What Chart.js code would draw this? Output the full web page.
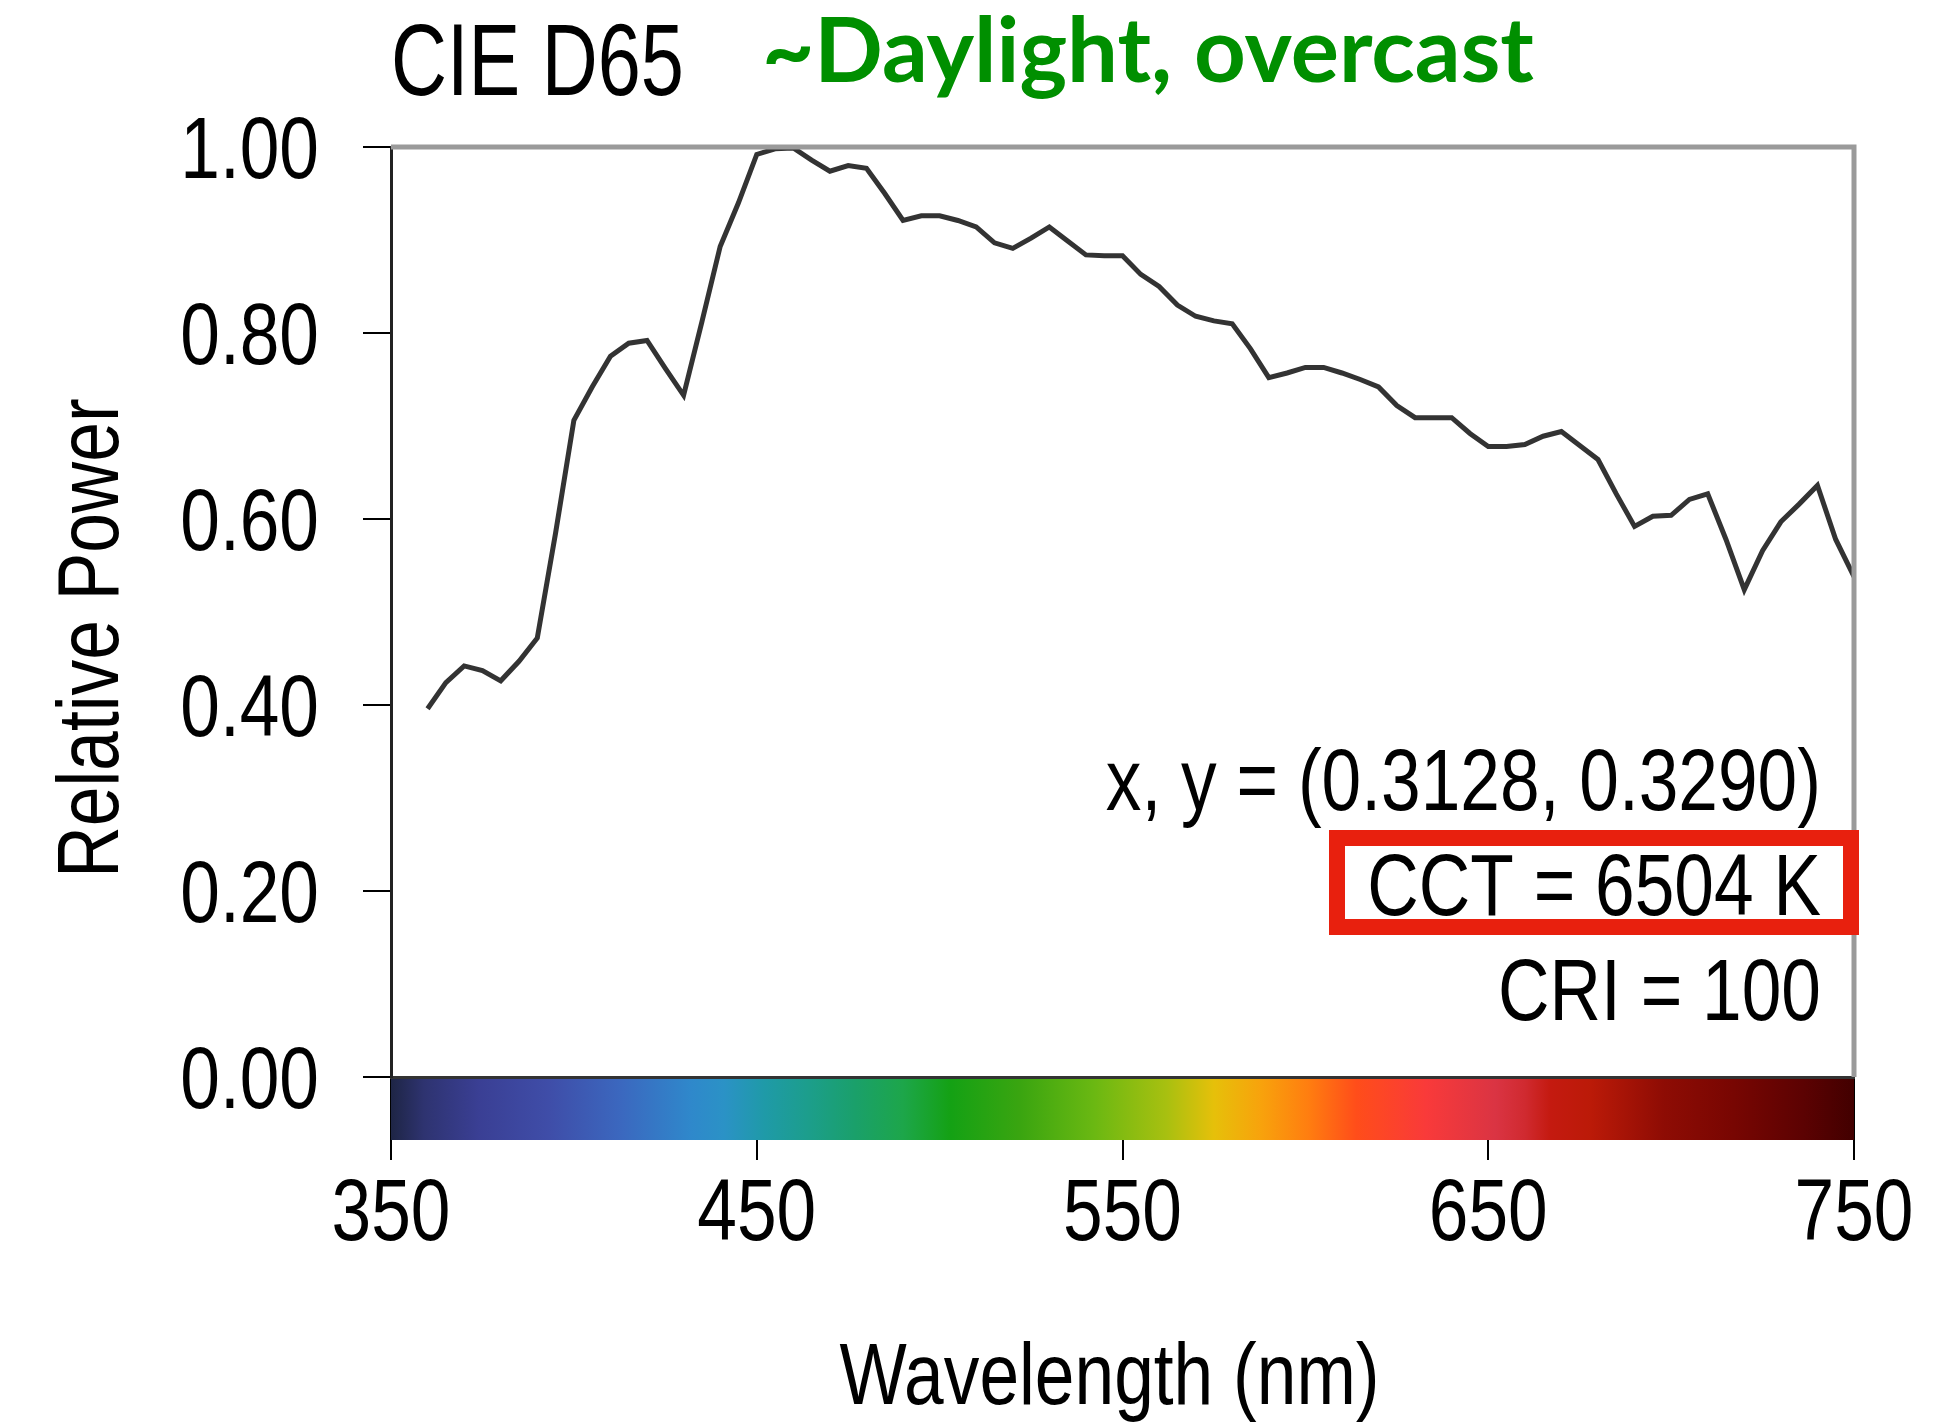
<!DOCTYPE html>
<html>
<head>
<meta charset="utf-8">
<script src="https://cdn.jsdelivr.net/npm/chart.js@4.4.1/dist/chart.umd.min.js"></script>
<style>
    html, body { margin: 0; padding: 0; background: #fff; }
</style>
</head>
<body>
<canvas id="canva" width="1942" height="1424"></canvas>
<script>
// wavelength (nm) and relative power
const wavelength = [
    360, 365, 370, 375, 380, 385, 390, 395, 400, 405,
    410, 415, 420, 425, 430, 435, 440, 445, 450, 455,
    460, 465, 470, 475, 480, 485, 490, 495, 500, 505,
    510, 515, 520, 525, 530, 535, 540, 545, 550, 555,
    560, 565, 570, 575, 580, 585, 590, 595, 600, 605,
    610, 615, 620, 625, 630, 635, 640, 645, 650, 655,
    660, 665, 670, 675, 680, 685, 690, 695, 700, 705,
    710, 715, 720, 725, 730, 735, 740, 745, 750,
];
const relativePower = [
    0.396, 0.424, 0.442, 0.437, 0.426, 0.447, 0.472, 0.585, 0.706, 0.742,
    0.775, 0.789, 0.792, 0.762, 0.733, 0.812, 0.893, 0.940, 0.992, 0.998,
    0.999, 0.986, 0.974, 0.980, 0.977, 0.950, 0.921, 0.926, 0.926, 0.921,
    0.914, 0.897, 0.891, 0.902, 0.914, 0.899, 0.884, 0.883, 0.883, 0.863,
    0.850, 0.830, 0.818, 0.813, 0.810, 0.783, 0.752, 0.757, 0.763, 0.763,
    0.757, 0.750, 0.742, 0.722, 0.709, 0.709, 0.709, 0.692, 0.678, 0.678,
    0.680, 0.689, 0.694, 0.679, 0.664, 0.627, 0.592, 0.603, 0.604, 0.621,
    0.627, 0.578, 0.524, 0.566, 0.597, 0.616, 0.636, 0.578, 0.538,
];
const xTicks = [350, 450, 550, 650, 750];
const yTicks = [0, 0.2, 0.4, 0.6, 0.8, 1.0];

const titleMain = 'CIE D65';
const titleNote = '~Daylight, overcast';
const xTitle = 'Wavelength (nm)';
const yTitle = 'Relative Power';
const infoLines = ['x, y = (0.3128, 0.3290)', 'CCT = 6504 K', 'CRI = 100'];

// colour bar under the axis: [wavelength, colour]
const spectrumStops = [
    [350, '#1e2545'], [359, '#2e3370'], [374, '#3a3f94'], [393, '#3f4da8'],
    [413, '#3b68bf'], [432, '#2f88cb'], [441, '#2b92c6'], [452, '#1f9aa8'],
    [464, '#1c9e8c'], [477, '#1aa06a'], [490, '#1da64a'], [503, '#14a114'],
    [522, '#3aa510'], [542, '#6ab812'], [562, '#a8c010'], [575, '#e6c00a'],
    [588, '#f8a20c'], [601, '#ff7d10'], [614, '#ff4d1a'], [633, '#f93a3a'],
    [652, '#da3443'], [660, '#d02a30'], [667, '#c41a10'], [678, '#bb1a08'],
    [698, '#8e0c04'], [717, '#780602'], [736, '#5c0202'], [750, '#420000'],
];

// the original uses a condensed Helvetica; squeeze Liberation Sans to match
const sans = '"Liberation Sans", Arimo, Arial, sans-serif';
const squeeze = 0.81;

function narrowText(ctx, text, x, y, align, size, sq, angle) {
    ctx.save();
    ctx.font = size + 'px ' + sans;
    ctx.translate(x, y);
    if (angle) ctx.rotate(angle);
    ctx.scale(sq, 1);
    ctx.textAlign = align;
    ctx.textBaseline = 'alphabetic';
    ctx.fillText(text, 0, 0);
    ctx.restore();
}

const decorations = {
    id: 'decorations',
    afterDraw(chart) {
        const { ctx, chartArea: area, scales } = chart;
        const xs = scales.x;
        const ys = scales.y;
        ctx.save();

        // spectrum bar
        const x0 = xs.getPixelForValue(350);
        const x1 = xs.getPixelForValue(750);
        const grad = ctx.createLinearGradient(x0, 0, x1, 0);
        spectrumStops.forEach(([w, c]) => {
            grad.addColorStop((xs.getPixelForValue(w) - x0) / (x1 - x0), c);
        });
        ctx.fillStyle = grad;
        ctx.fillRect(x0, area.bottom + 2, x1 - x0, 61);

        // grey frame top and right
        ctx.strokeStyle = '#9a9a9a';
        ctx.lineWidth = 5;
        ctx.beginPath();
        ctx.moveTo(area.left, area.top);
        ctx.lineTo(area.right, area.top);
        ctx.lineTo(area.right, area.bottom);
        ctx.stroke();

        // tick labels, placed by the scales
        ctx.fillStyle = '#000';
        ys.ticks.forEach((t) => {
            narrowText(ctx, t.value.toFixed(2), area.left - 72,
                ys.getPixelForValue(t.value) + 31, 'right', 88, squeeze);
        });
        xs.ticks.forEach((t) => {
            narrowText(ctx, String(t.value), xs.getPixelForValue(t.value),
                area.bottom + 163, 'center', 88, squeeze);
        });

        // axis titles
        narrowText(ctx, xTitle, (area.left + area.right) / 2 - 13, 1404, 'center', 88, squeeze);
        narrowText(ctx, yTitle, 118, (area.top + area.bottom) / 2 + 26, 'center', 88, squeeze, -Math.PI / 2);

        // chart titles
        narrowText(ctx, titleMain, 391, 95, 'left', 102, 0.76);

        ctx.font = 'bold 100px Lato, "Open Sans", sans-serif';
        const w = ctx.measureText(titleNote).width;
        const size = 100 * 772 / w;
        ctx.font = 'bold ' + size.toFixed(1) + 'px Lato, "Open Sans", sans-serif';
        ctx.fillStyle = '#008f00';
        ctx.textAlign = 'left';
        ctx.textBaseline = 'alphabetic';
        ctx.fillText(titleNote, 762, 82);

        // info text
        ctx.fillStyle = '#000';
        narrowText(ctx, infoLines[0], 1821, 810, 'right', 88, squeeze);
        narrowText(ctx, infoLines[1], 1821, 915, 'right', 88, squeeze);
        narrowText(ctx, infoLines[2], 1821, 1020, 'right', 88, squeeze);

        ctx.strokeStyle = '#e8200e';
        ctx.lineWidth = 16;
        ctx.strokeRect(1337, 838, 514, 89);

        ctx.restore();
    },
};

const canvas = document.querySelector('#canva').getContext('2d');
new Chart(canvas, {
    type: 'line',
    data: {
        datasets: [
            {
                data: wavelength.map((w, i) => ({ x: w, y: relativePower[i] })),
                borderColor: '#333333',
                borderWidth: 5,
                pointRadius: 0,
                tension: 0,
                fill: false,
            },
        ],
    },
    options: {
        responsive: false,
        animation: false,
        layout: {
            padding: { top: 147, right: 88, left: 0, bottom: 0 },
        },
        plugins: {
            legend: { display: false },
            tooltip: { enabled: false },
        },
        scales: {
            x: {
                type: 'linear',
                min: 350,
                max: 750,
                afterBuildTicks: (scale) => {
                    scale.ticks = xTicks.map((v) => ({ value: v }));
                },
                afterFit: (scale) => {
                    scale.height = 347;
                },
                grid: {
                    drawOnChartArea: false,
                    tickLength: 83,
                    color: '#000',
                    lineWidth: 2,
                },
                border: { color: '#333', width: 3 },
                ticks: { display: false },
            },
            y: {
                min: 0,
                max: 1,
                afterBuildTicks: (scale) => {
                    scale.ticks = yTicks.map((v) => ({ value: v }));
                },
                afterFit: (scale) => {
                    scale.width = 391;
                },
                grid: {
                    drawOnChartArea: false,
                    tickLength: 28,
                    color: '#000',
                    lineWidth: 2,
                },
                border: { color: '#222', width: 3 },
                ticks: { display: false },
            },
        },
    },
    plugins: [decorations],
});
</script>
</body>
</html>
